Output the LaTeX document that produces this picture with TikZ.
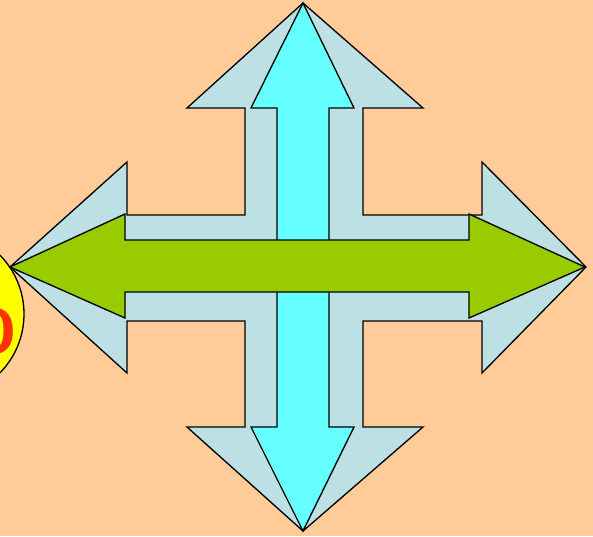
\documentclass[tikz,border=0pt]{standalone}
\usepackage{tikz}

\definecolor{peach}{RGB}{255,204,153}
\definecolor{paleblue}{RGB}{189,224,228}
\definecolor{aqua}{RGB}{102,255,255}
\definecolor{leaf}{RGB}{153,204,0}
\definecolor{lemon}{RGB}{255,255,0}
\definecolor{signred}{RGB}{255,51,0}

\tikzset{every picture/.style={line width=0.75pt}}

\begin{document}
\begin{tikzpicture}[x=0.75pt,y=0.75pt,yscale=-1,xscale=1]
		%background, sets the diagram size
		\fill [peach] (0,0) rectangle (593,536) ;
		\useasboundingbox (0,0) rectangle (593,536) ;
		
		%Shape: Circle [id:yellowdisc] 
		\draw  [fill=lemon, line width=1pt] (-60,314) circle (84) ;
		% Text Node
		\draw (-8,331) node [inner sep=0pt, text=signred]  [font=\fontsize{48}{48}\selectfont\sffamily\bfseries]  {O};
		
		%Shape: Quad Arrow [id:quadarrow] 
		\draw  [fill=paleblue, line width=1pt, line join=miter]  (303,3) -- (423,108) -- (363,108) -- (363,215) -- (482,215) -- (482,162) -- (586,267) -- (482,373) -- (482,321) -- (363,321) -- (363,427) -- (423,427) -- (303,531) -- (187,427) -- (245,427) -- (245,321) -- (127,321) -- (127,373) -- (10,267) -- (127,162) -- (127,215) -- (245,215) -- (245,108) -- (187,108) -- cycle ;
		%Shape: Up-Down Arrow [id:vertarrow] 
		\draw  [fill=aqua, line width=1pt]  (303,3) -- (354,108) -- (329,108) -- (329,427) -- (354,427) -- (303,531) -- (251,427) -- (277,427) -- (277,108) -- (251,108) -- cycle ;
		%Shape: Left-Right Arrow [id:horizarrow] 
		\draw  [fill=leaf, line width=1pt]  (10,267) -- (125,214) -- (125,240) -- (469,240) -- (469,214) -- (585,267) -- (469,318) -- (469,292) -- (125,292) -- (125,318) -- cycle ;
	\end{tikzpicture}
\end{document}
